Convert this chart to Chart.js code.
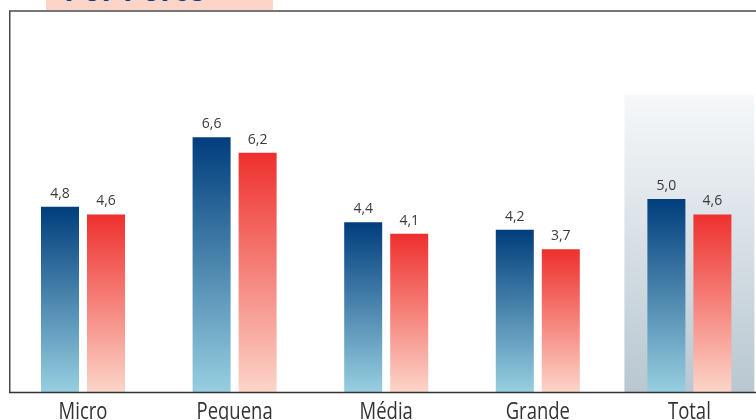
<!DOCTYPE html>
<html lang="pt">
<head>
<meta charset="utf-8">
<title>Por Porte</title>
<script src="https://cdn.jsdelivr.net/npm/chart.js@4/dist/chart.umd.min.js"></script>
<style>
	html, body {
		margin: 0;
		padding: 0;
		width: 756px;
		height: 420px;
		overflow: hidden;
		background: #ffffff;
	}
	#wrap {
		position: absolute;
		left: 0;
		top: 0;
		width: 780px;
		height: 420px;
	}
	#tab {
		position: absolute;
		left: 46px;
		top: 0;
		width: 227px;
		height: 10px;
		background: #fcd5c8;
		overflow: hidden;
		z-index: 2;
	}
	#tab span {
		position: absolute;
		left: 18px;
		bottom: 5.5px;
		font-family: "Open Sans", sans-serif;
		font-weight: 700;
		font-size: 30px;
		line-height: 30px;
		color: #0b3f7f;
		white-space: nowrap;
	}
</style>
</head>
<body>
<div id="tab"><span>Por Porte</span></div>
<div id="wrap"><canvas id="porteChart"></canvas></div>
<script>
const categories = ["Micro", "Pequena", "Média", "Grande", "Total"];
const seriesA = [4.8, 6.6, 4.4, 4.2, 5.0];
const seriesB = [4.6, 6.2, 4.1, 3.7, 4.6];

const labelFont = '"Open Sans", sans-serif';
const blueTop = "#003d7c";
const blueBottom = "#97cfe0";
const redTop = "#ee302d";
const redBottom = "#fcd5c9";

// vertical gradient running from the top of each bar down to the baseline
function barGradient(top, bottom) {
	return (ctx) => {
		const chart = ctx.chart;
		if (!chart.chartArea || ctx.parsed == null) return top;
		const y = chart.scales.y;
		const g = chart.ctx.createLinearGradient(0, y.getPixelForValue(ctx.parsed.y), 0, y.getPixelForValue(0));
		g.addColorStop(0, top);
		g.addColorStop(1, bottom);
		return g;
	};
}

// shaded column behind the last category
const highlightPlugin = {
	id: "highlight",
	beforeDatasetsDraw(chart) {
		const { ctx, scales } = chart;
		const cx = scales.x.getPixelForValue(categories.length - 1);
		const bottom = scales.y.getPixelForValue(0);
		const top = 95;
		const g = ctx.createLinearGradient(0, top, 0, bottom);
		g.addColorStop(0, "rgba(246,248,250,1)");
		g.addColorStop(1, "#b8c7d1");
		ctx.save();
		ctx.fillStyle = g;
		ctx.fillRect(cx - 65, top, 130, bottom - top);
		ctx.restore();
	},
};

// frame lines, value labels and condensed category names
const framePlugin = {
	id: "frame",
	afterDatasetsDraw(chart) {
		const { ctx, scales } = chart;
		const base = scales.y.getPixelForValue(0);
		ctx.save();
		ctx.strokeStyle = "#4a4a4a";
		ctx.lineWidth = 1.5;
		ctx.beginPath();
		ctx.moveTo(9.75, base);
		ctx.lineTo(9.75, 11);
		ctx.lineTo(chart.width, 11);
		ctx.stroke();
		ctx.strokeStyle = "#333333";
		ctx.beginPath();
		ctx.moveTo(9, base + 0.5);
		ctx.lineTo(chart.width, base + 0.5);
		ctx.stroke();

		ctx.fillStyle = "#3a3a3a";
		ctx.font = "14px " + labelFont;
		ctx.textAlign = "center";
		ctx.textBaseline = "alphabetic";
		chart.data.datasets.forEach((ds, i) => {
			chart.getDatasetMeta(i).data.forEach((bar, j) => {
				const txt = ds.data[j].toFixed(1).replace(".", ",");
				ctx.fillText(txt, bar.x, bar.y - 9);
			});
		});

		// category names, squeezed horizontally
		ctx.fillStyle = "#333333";
		ctx.font = "24px " + labelFont;
		const squeeze = 0.77;
		categories.forEach((name, i) => {
			const x = scales.x.getPixelForValue(i);
			ctx.save();
			ctx.translate(x, base + 27);
			ctx.scale(squeeze, 1);
			ctx.fillText(name, 0, 0);
			ctx.restore();
		});
		ctx.restore();
	},
};

new Chart(document.getElementById("porteChart"), {
	type: "bar",
	data: {
		labels: categories,
		datasets: [
			{
				label: "A",
				data: seriesA,
				backgroundColor: barGradient(blueTop, blueBottom),
				barPercentage: 0.826,
				categoryPercentage: 0.607,
			},
			{
				label: "B",
				data: seriesB,
				backgroundColor: barGradient(redTop, redBottom),
				barPercentage: 0.826,
				categoryPercentage: 0.607,
			},
		],
	},
	options: {
		responsive: true,
		maintainAspectRatio: false,
		animation: false,
		layout: {
			padding: { left: 7.2, right: 14.8, top: 11, bottom: 0 },
		},
		plugins: {
			legend: { display: false },
			tooltip: { enabled: false },
		},
		scales: {
			x: {
				grid: { display: false },
				border: { display: false },
				ticks: { display: false },
				afterFit(scale) {
					scale.height = 28;
				},
			},
			y: {
				display: false,
				min: 0,
				max: 9.87,
			},
		},
	},
	plugins: [highlightPlugin, framePlugin],
});
</script>
</body>
</html>
